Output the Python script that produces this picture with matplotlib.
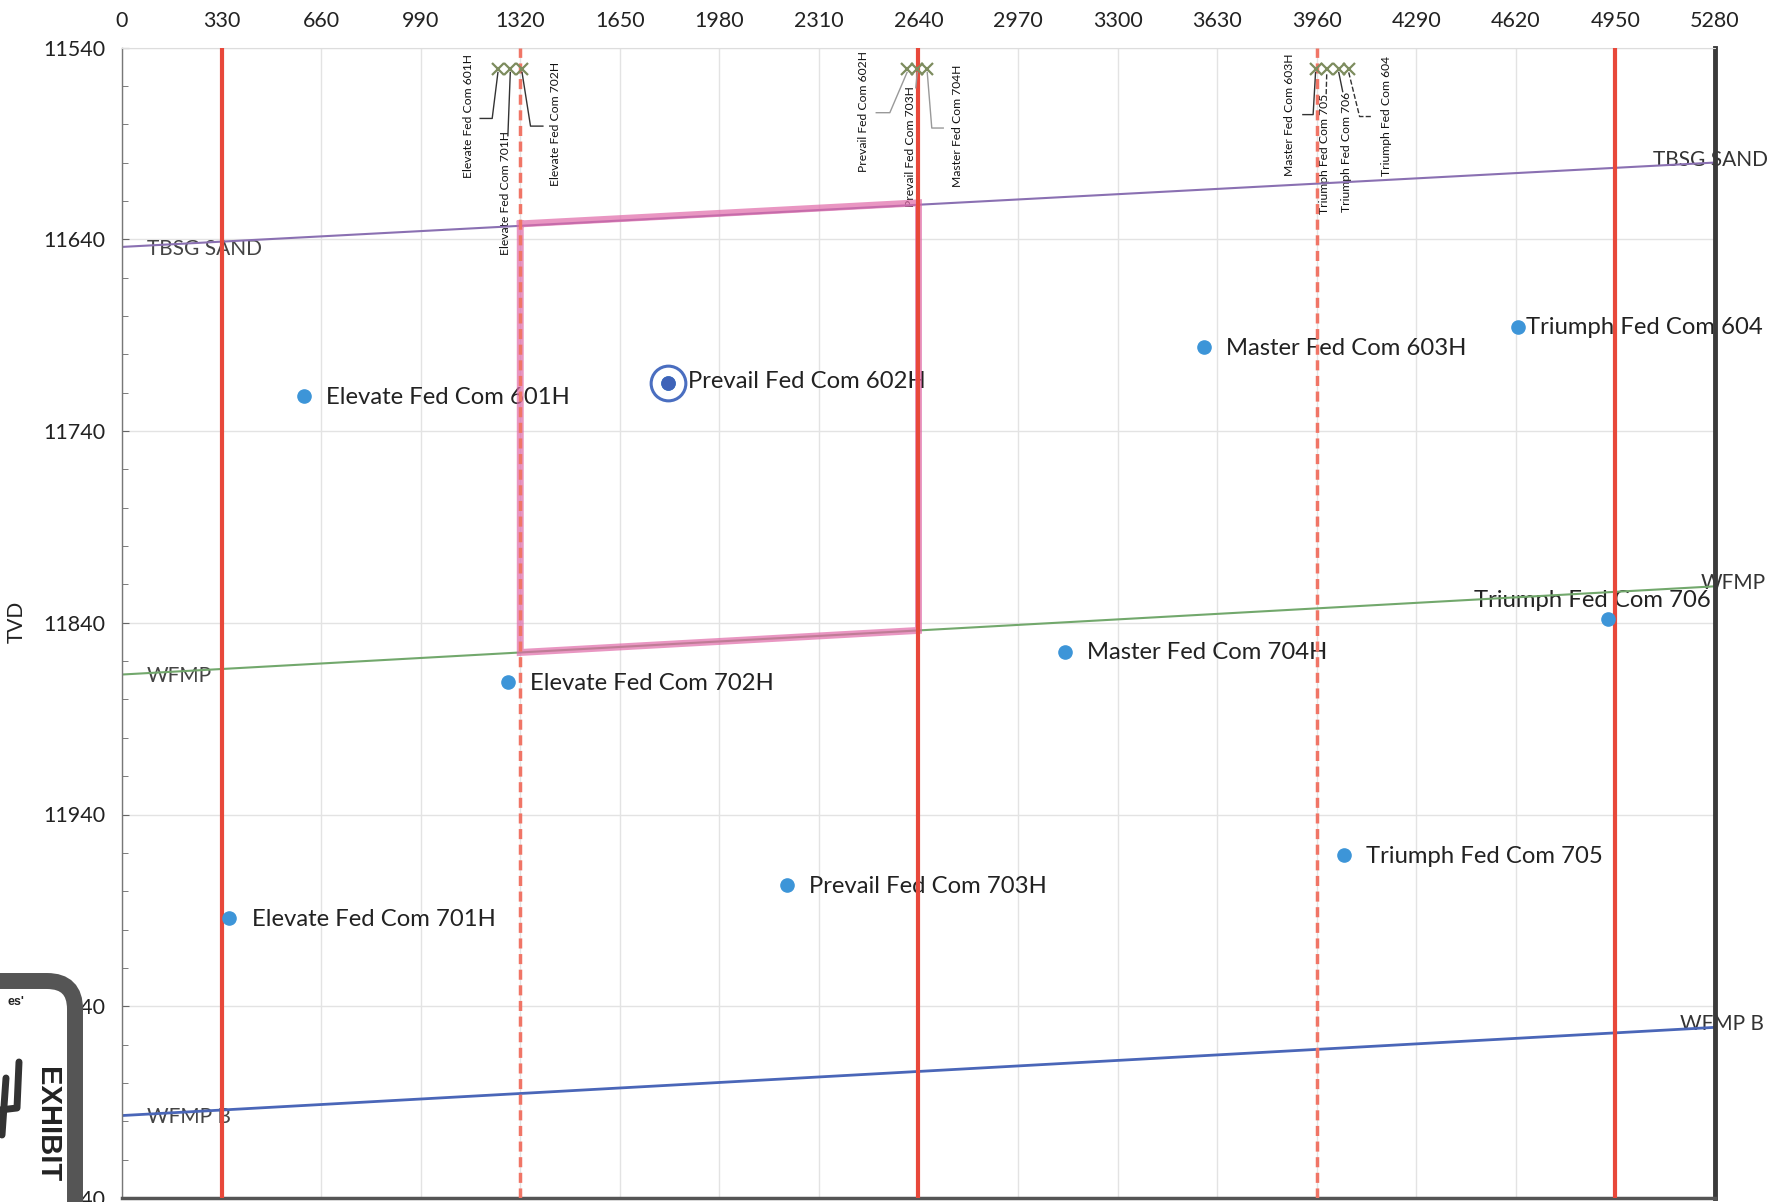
import matplotlib
matplotlib.use('Agg')
import matplotlib.pyplot as plt
from matplotlib.patches import FancyBboxPatch
from matplotlib.lines import Line2D
from matplotlib.transforms import IdentityTransform
import numpy as np

# ---------------- data ----------------
x_ticks = list(range(0, 5281, 330))
y_ticks = list(range(11540, 12141, 100))

wells = ["Elevate Fed Com 601H", "Prevail Fed Com 602H", "Master Fed Com 603H",
         "Triumph Fed Com 604", "Elevate Fed Com 701H", "Elevate Fed Com 702H",
         "Prevail Fed Com 703H", "Master Fed Com 704H", "Triumph Fed Com 705",
         "Triumph Fed Com 706"]
well_x = [604, 1809, 3587, 4627, 356, 1280, 2203, 3126, 4049, 4924]
well_tvd = [11722, 11715, 11696, 11686, 11994, 11871, 11977, 11855, 11961, 11838]
highlight_well = "Prevail Fed Com 602H"

formations = ["TBSG SAND", "WFMP", "WFMP B"]
form_x = [0, 5280]
form_tvd_left = [11644, 11867, 12097]
form_tvd_right = [11600, 11821, 12051]

section_lines = [330, 2640, 4950]
quarter_lines = [1320, 3960]
unit_x = [1320, 2640]

surf_labels = ["Elevate Fed Com 601H", "Elevate Fed Com 701H", "Elevate Fed Com 702H",
               "Prevail Fed Com 602H", "Prevail Fed Com 703H", "Master Fed Com 704H",
               "Master Fed Com 603H", "Triumph Fed Com 705", "Triumph Fed Com 706",
               "Triumph Fed Com 604"]
surf_x = [1246, 1287, 1326, 2602, 2636, 2669, 3956, 3993, 4033, 4066]
surf_tvd = [11551] * 10
surf_label_x = [1150, 1270, 1437, 2459, 2614, 2768, 3870, 3986, 4058, 4191]
surf_label_tvd = [11608, 11648, 11612, 11605, 11623, 11613, 11607, 11627, 11626, 11607]
leaders = [
    [(1246, 11553), (1227, 11577), (1187, 11577)],
    [(1287, 11553), (1279, 11586)],
    [(1326, 11553), (1354, 11581), (1395, 11581)],
    [(2602, 11553), (2545, 11574), (2500, 11574)],
    [(2636, 11553), (2631, 11561)],
    [(2669, 11553), (2684, 11582), (2722, 11582)],
    [(3956, 11553), (3948, 11575), (3914, 11575)],
    [(3993, 11554), (3991, 11566)],
    [(4033, 11553), (4046, 11563)],
    [(4066, 11553), (4102, 11576), (4145, 11576)],
]

# ---------------- style ----------------
plt.rcParams['font.family'] = ['Lato', 'DejaVu Sans']
fig = plt.figure(figsize=(17.75, 12.02), dpi=100)
ax = fig.add_axes([122 / 1775, 1 - 1198 / 1202, (1715 - 122) / 1775, (1198 - 47.5) / 1202])

ax.set_xlim(0, 5280)
ax.set_ylim(12140, 11540)
ax.xaxis.tick_top()
ax.set_xticks(x_ticks)
ax.set_yticks(y_ticks)
ax.set_yticks(np.arange(11540, 12141, 20), minor=True)
ax.tick_params(axis='x', length=0, pad=12, labelsize=15.5, labelcolor='#222')
ax.tick_params(axis='y', which='both', direction='in', length=5, color='#666',
               pad=12, labelsize=15.5, labelcolor='#222')
ax.tick_params(axis='y', which='minor', length=4)
ax.grid(True, which='major', color='#e3e3e3', lw=1)
ax.set_axisbelow(True)

ax.spines['top'].set_color('#dddddd')
ax.spines['left'].set_color('#777777')
ax.spines['left'].set_linewidth(1)
ax.spines['bottom'].set_color('#555555')
ax.spines['bottom'].set_linewidth(2.5)
ax.spines['right'].set_color('#3a3a3a')
ax.spines['right'].set_linewidth(3.5)

fig.text(17 / 1775, 1 - 622 / 1202, "TVD", rotation=90, ha='center', va='center',
         fontsize=15, color='#222')

# formation lines
form_colors = ['#8a70b2', '#72a86c', '#4a66b8']
form_lw = [1.5, 1.5, 2.0]
for name, l, r, c, lw in zip(formations, form_tvd_left, form_tvd_right, form_colors, form_lw):
    ax.plot(form_x, [l, r], color=c, lw=lw, zorder=2)
    ax.text(83, l + 1, name, ha='left', va='center', fontsize=15, color='#444', zorder=1.5)
right_lab_x = [5074, 5231, 5164]
for name, r, xx in zip(formations, form_tvd_right, right_lab_x):
    ax.text(xx, r - 1.5, name, ha='left', va='center', fontsize=15, color='#333',
            zorder=1.5, clip_on=False)

# unit outline (pink)
tb = np.interp(unit_x, form_x, [form_tvd_left[0], form_tvd_right[0]])
wf = np.interp(unit_x, form_x, [form_tvd_left[1], form_tvd_right[1]])
px = [unit_x[0], unit_x[1], unit_x[1], unit_x[0], unit_x[0]]
py = [tb[0] - 1, tb[1] - 1, wf[1], wf[0], tb[0] - 1]
ax.plot(px, py, color='#e06aa8', lw=5, alpha=0.7, solid_joinstyle='miter', zorder=2.5)

# section lines
for xv in section_lines:
    ax.axvline(xv, color='#e8483a', lw=3, zorder=3)
for xv in quarter_lines:
    ax.axvline(xv, color='#f07566', lw=2.5, ls=(0, (2.9, 1.6)), zorder=3)

# wells
ax.plot(well_x, well_tvd, 'o', ls='none', color='#3d95d8', ms=9.5, zorder=4)
hi = wells.index(highlight_well)
ax.plot([well_x[hi]], [well_tvd[hi]], 'o', ms=25, mfc='none', mec='#4a6ec0', mew=2.2, zorder=4)
ax.plot([well_x[hi]], [well_tvd[hi]], 'o', ms=9.5, color='#3f63b8', zorder=4.1)

offsets = {"Prevail Fed Com 602H": (14.5, 1), "Triumph Fed Com 604": (5.5, 0),
           "Triumph Fed Com 706": (-96, 13.5)}
for name, xv, yv in zip(wells, well_x, well_tvd):
    dx, dy = offsets.get(name, (16, -1))
    ax.annotate(name, (xv, yv), xytext=(dx, dy), textcoords='offset points',
                ha='left', va='center', fontsize=17.2, color='#222', zorder=1,
                annotation_clip=False)

# surface markers with rotated labels
ax.plot(surf_x, surf_tvd, 'x', ls='none', color='#7d8c5e', ms=9, mew=1.6, zorder=5)
leader_colors = ['#333'] * 3 + ['#999'] * 3 + ['#333'] * 4
leader_styles = ['-'] * 7 + ['--', '-', '--']
for lab, lx, ly, ld, lc, ls in zip(surf_labels, surf_label_x, surf_label_tvd, leaders,
                                    leader_colors, leader_styles):
    ax.text(lx, ly, lab, rotation=90, ha='center', va='bottom', fontsize=8.7,
            color='#111', zorder=1)
    xs, ys = zip(*ld)
    ax.plot(xs, ys, color=lc, lw=1, ls=ls, zorder=4.5)

# exhibit stamp (scanned overlay)
stamp = FancyBboxPatch((-140, -120), 215, 1202 - 981 + 120,
                       boxstyle="round,pad=0,rounding_size=28",
                       transform=IdentityTransform(), facecolor='white',
                       edgecolor='#555555', lw=11.5, zorder=10)
fig.add_artist(stamp)
fig.text(47, 1202 - 1125, "EXHIBIT", rotation=270, ha='center', va='center',
         fontsize=21, weight='bold', family='Liberation Sans', color='#222',
         transform=IdentityTransform(), zorder=11)
fig.text(24, 1202 - 1002, "es'", ha='right', va='center', fontsize=9, weight='bold',
         family='Liberation Sans', color='#222', transform=IdentityTransform(), zorder=11)
fig.add_artist(Line2D([19, 17, 0], [1202 - 1062, 1202 - 1108, 1202 - 1110], lw=5,
                      color='#333', transform=IdentityTransform(), zorder=11,
                      solid_capstyle='round'))
fig.add_artist(Line2D([6, 2], [1202 - 1078, 1202 - 1135], lw=5, color='#333',
                      transform=IdentityTransform(), zorder=11, solid_capstyle='round'))

fig.savefig('out.png', dpi=100)
